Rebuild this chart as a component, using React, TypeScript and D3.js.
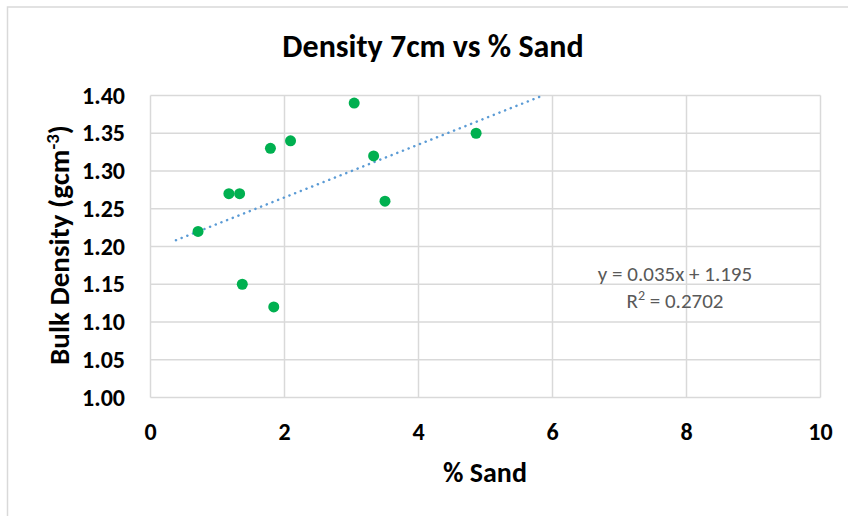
import React from "react";
import * as d3 from "d3";

const sandPct = [0.71, 1.17, 1.33, 1.79, 2.09, 3.04, 3.33, 3.5, 4.86, 1.37, 1.84];
const bulkDensity = [1.22, 1.27, 1.27, 1.33, 1.34, 1.39, 1.32, 1.26, 1.35, 1.15, 1.12];
const xTicks = [0, 2, 4, 6, 8, 10];
const yTicks = [1.0, 1.05, 1.1, 1.15, 1.2, 1.25, 1.3, 1.35, 1.4];
const trendSlope = 0.035;
const trendIntercept = 1.195;
const trendStartX = 0.38;
const titleText = "Density 7cm vs % Sand";
const xTitle = "% Sand";
const eqText = "y = 0.035x + 1.195";

export default function App() {
  const W = 848, H = 516;
  const left = 150.5, right = 820.5, top = 95.5, bottom = 397.5;
  const x = d3.scaleLinear().domain([0, 10]).range([left, right]);
  const y = d3.scaleLinear().domain([1.0, 1.4]).range([bottom, top]);
  const font = "Calibri, Carlito, 'Open Sans', sans-serif";
  const trendEndX = (1.4 - trendIntercept) / trendSlope;
  const line = d3.line<number>().x((d) => x(d)).y((d) => y(trendSlope * d + trendIntercept));
  return (
    <svg width={W} height={H} style={{ position: "absolute", left: 0, top: 0, background: "#fff" }} fontFamily={font}>
      <rect x={7.5} y={7} width={W} height={H} fill="#fff" stroke="#d9d9d9" strokeWidth={1.5} />
      <text x={433} y={57} textAnchor="middle" fontSize={32} fontWeight="bold" fill="#000">{titleText}</text>
      {xTicks.map((t) => (
        <line key={"gx" + t} x1={x(t)} x2={x(t)} y1={top} y2={bottom} stroke="#d9d9d9" strokeWidth={1.5} />
      ))}
      {yTicks.map((t) => (
        <line key={"gy" + t} x1={left} x2={right} y1={y(t)} y2={y(t)} stroke="#d9d9d9" strokeWidth={1.5} />
      ))}
      {yTicks.map((t) => (
        <text key={"ty" + t} x={125} y={y(t) + 8} textAnchor="end" fontSize={24} fontWeight="bold" fill="#000">{t.toFixed(2)}</text>
      ))}
      {xTicks.map((t) => (
        <text key={"tx" + t} x={x(t)} y={440} textAnchor="middle" fontSize={24} fontWeight="bold" fill="#000">{t}</text>
      ))}
      <text x={485} y={482} textAnchor="middle" fontSize={28} fontWeight="bold" fill="#000">{xTitle}</text>
      <text transform={`translate(69,245) rotate(-90)`} textAnchor="middle" fontSize={29} fontWeight="bold" fill="#000">
        Bulk Density (gcm<tspan dy={-10} fontSize={19}>-3</tspan><tspan dy={10}>)</tspan>
      </text>
      <path d={line([trendStartX, trendEndX]) || ""} fill="none" stroke="#5b9bd5" strokeWidth={2.5} strokeDasharray="0.1 6" strokeLinecap="round" />
      {sandPct.map((s, i) => (
        <circle key={i} cx={x(s)} cy={y(bulkDensity[i])} r={5.5} fill="#00b050" />
      ))}
      <text x={675} y={281} textAnchor="middle" fontSize={21} fill="#595959">{eqText}</text>
      <text x={675} y={308} textAnchor="middle" fontSize={21} fill="#595959">
        R<tspan dy={-8} fontSize={14}>2</tspan><tspan dy={8}> = 0.2702</tspan>
      </text>
    </svg>
  );
}
